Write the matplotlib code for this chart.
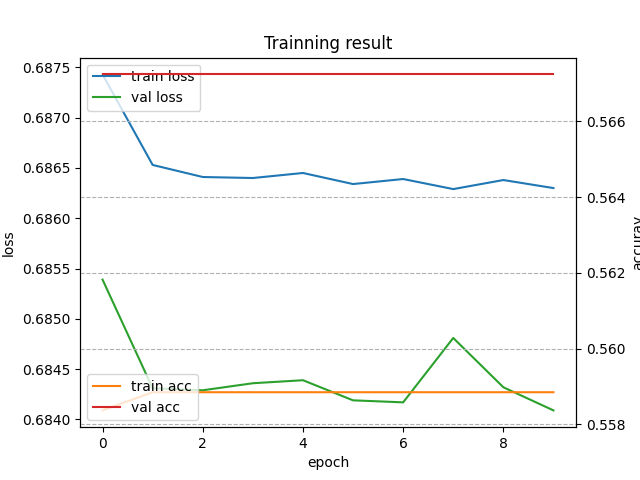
import numpy as np
import matplotlib
matplotlib.use('Agg')
import matplotlib.pyplot as plt

epochs = np.arange(10)
train_loss = [0.68743, 0.68653, 0.68641, 0.68640, 0.68645, 0.68634, 0.68639, 0.68629, 0.68638, 0.68630]
val_loss = [0.68539, 0.68431, 0.68429, 0.68436, 0.68439, 0.68419, 0.68417, 0.68481, 0.68432, 0.68409]
train_acc = [0.55837, 0.55885, 0.55885, 0.55885, 0.55885, 0.55885, 0.55885, 0.55885, 0.55885, 0.55885]
val_acc = [0.56724] * 10

fig, ax1 = plt.subplots(figsize=(6.4, 4.8), dpi=100)
ax1.plot(epochs, train_loss, color='tab:blue', label='train loss')
ax1.plot(epochs, val_loss, color='tab:green', label='val loss')
ax1.set_xlabel('epoch')
ax1.set_ylabel('loss')
ax1.legend(loc='upper left')

ax2 = ax1.twinx()
ax2.plot(epochs, train_acc, color='tab:orange', label='train acc')
ax2.plot(epochs, val_acc, color='tab:red', label='val acc')
ax2.set_ylabel('accuray')
ax2.legend(loc='lower left')
ax2.grid(linestyle='--')

plt.title('Trainning result')
plt.savefig('out.png')
